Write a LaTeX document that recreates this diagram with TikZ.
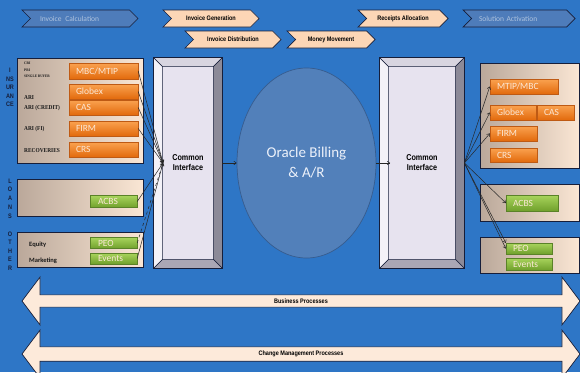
\documentclass[tikz,border=0pt]{standalone}
\usepackage{fontspec}
\setmainfont{Carlito}
\newfontfamily\narrowfont[FakeStretch=0.85]{Liberation Sans}
\newfontfamily\serifnarrow[FakeStretch=0.9]{Liberation Serif}
\usetikzlibrary{arrows.meta,calc}
\usetikzlibrary{shapes.geometric,shapes.symbols,shapes.arrows}

\definecolor{bgblue}{RGB}{46,118,198}
\definecolor{chevfill}{RGB}{78,124,186}
\definecolor{chevtext}{RGB}{175,195,222}
\definecolor{peach}{RGB}{252,214,182}
\definecolor{arrowpeach}{RGB}{253,234,218}
\definecolor{navy}{RGB}{22,30,58}
\definecolor{ovalfill}{RGB}{82,128,186}
\definecolor{ovaledge}{RGB}{55,92,142}
\definecolor{ovaltext}{RGB}{236,241,250}
\definecolor{paneldark}{RGB}{186,168,154}
\definecolor{panellight}{RGB}{250,230,212}
\definecolor{orangetop}{RGB}{250,162,80}
\definecolor{orangebot}{RGB}{226,106,12}
\definecolor{orangeedge}{RGB}{190,90,20}
\definecolor{greentop}{RGB}{168,212,92}
\definecolor{greenbot}{RGB}{112,160,44}
\definecolor{greenedge}{RGB}{90,130,40}
\definecolor{btntext}{RGB}{252,232,214}
\definecolor{ciface}{RGB}{231,227,239}
\definecolor{cileft}{RGB}{244,242,248}
\definecolor{citop}{RGB}{216,213,224}
\definecolor{ciright}{RGB}{140,138,152}
\definecolor{cibottom}{RGB}{170,167,181}

\begin{document}
\begin{tikzpicture}[x=1pt,y=-1pt]
\tikzstyle{chev}=[signal, signal from=west, signal to=east, draw=navy,
    line width=0.7pt, minimum height=17pt, inner sep=0pt]
\tikzstyle{chevpeach}=[chev, fill=peach,
    font=\narrowfont\bfseries\fontsize{6.5}{7}\selectfont]
\tikzstyle{chevblue}=[chev, fill=chevfill, text=chevtext, text width=80pt,
    align=left, font=\fontsize{7.5}{8}\selectfont]
\tikzstyle{panel}=[rectangle, draw=navy, line width=0.8pt,
    left color=paneldark, right color=panellight]
\tikzstyle{btn}=[rectangle, inner xsep=7pt, inner ysep=0pt, align=left,
    text=btntext, font=\fontsize{9.5}{10}\selectfont]
\tikzstyle{obtn}=[btn, top color=orangetop, bottom color=orangebot, draw=orangeedge]
\tikzstyle{gbtn}=[btn, top color=greentop, bottom color=greenbot, draw=greenedge]
\tikzstyle{ci}=[rectangle, draw=navy, line width=0.8pt, fill=ciface,
    minimum height=210pt, align=center,
    font=\narrowfont\bfseries\fontsize{8.5}{10}\selectfont]
\tikzstyle{side}=[inner sep=0pt, text=navy,
    font=\narrowfont\bfseries\fontsize{6.5}{7}\selectfont]
\tikzstyle{lbl}=[anchor=west, inner sep=0pt, text=black!90,
    font=\serifnarrow\bfseries\fontsize{6}{6}\selectfont]
\tikzstyle{conn}=[-{To[length=3pt,width=4pt]}, black!85, line width=0.5pt]
\tikzstyle{band}=[double arrow, draw=navy, line width=0.7pt, fill=arrowpeach,
    minimum width=48pt, minimum height=558pt, inner sep=0pt,
    double arrow head extend=8pt, double arrow tip angle=106,
    font=\narrowfont\bfseries\fontsize{6.5}{7}\selectfont]

% background
\fill[bgblue] (0,0) rectangle (580,372);
\useasboundingbox (0,0) rectangle (580,372);

% process steps
\node[chevblue, minimum width=116pt] (calc) at (80,18.5) {Invoice\, Calculation};
\node[chevpeach, minimum width=96pt] (gen) at (211,18.5) {Invoice Generation};
\node[chevpeach, minimum width=96pt] (dist) at (233,39.5) {Invoice Distribution};
\node[chevpeach, minimum width=88pt] (money) at (331,39.5) {Money Movement};
\node[chevpeach, minimum width=90pt] (receipts) at (403,18.5) {Receipts Allocation};
\node[chevblue, minimum width=112pt] (activation) at (519,18.5) {Solution Activation};

% side titles
\foreach \t/\y in {I/70,NS/79,UR/87,AN/96,CE/104}
  \node[side] (ins-\t) at (10,\y) {\t};
\foreach \t/\y in {L/181,O/189,A/198,N/207,S/216}
  \node[side] (loan-\t) at (10,\y) {\t};
\foreach \t/\y in {O/234,T/242,H/251,E/259,R/268}
  \node[side] (oth-\t) at (10,\y) {\t};

% left panels
\node[panel, minimum width=126pt, minimum height=105pt] (insl) at (80,110.5) {};
\node[panel, minimum width=126pt, minimum height=37pt] (loanl) at (80,197.5) {};
\node[panel, minimum width=126pt, minimum height=35pt] (othl) at (80,249.5) {};

\node[lbl, anchor=north west, align=left,
    font=\serifnarrow\bfseries\fontsize{3.8}{6.5}\selectfont] (cri) at (24,62) {CRI\\PRI\\SINGLE BUYER};
\node[lbl] (ari) at (24,98) {ARI};
\node[lbl] (aricr) at (24,108) {ARI (CREDIT)};
\node[lbl] (arifi) at (24,129) {ARI (FI)};
\node[lbl] (recov) at (24,151) {RECOVERIES};
\node[lbl, font=\bfseries\fontsize{6.5}{7}\selectfont] (equity) at (29,245) {Equity};
\node[lbl, font=\bfseries\fontsize{6.5}{7}\selectfont] (mkt) at (29,261) {Marketing};

\node[obtn, text width=55pt, minimum height=16pt] (mbcl) at (103.5,71) {MBC/MTIP};
\node[obtn, text width=55pt, minimum height=15pt] (globexl) at (103.5,91.5) {Globex};
\node[obtn, text width=55pt, minimum height=15pt] (casl) at (103.5,107.5) {CAS};
\node[obtn, text width=55pt, minimum height=15pt] (firml) at (103.5,128.5) {FIRM};
\node[obtn, text width=55pt, minimum height=15pt] (crsl) at (103.5,149.5) {CRS};
\node[gbtn, text width=31pt, inner xsep=8pt, minimum height=12pt] (acbsl) at (113.5,201.5) {ACBS};
\node[gbtn, text width=31pt, inner xsep=8pt, minimum height=11pt] (peol) at (113.5,243) {PEO};
\node[gbtn, text width=31pt, inner xsep=8pt, minimum height=11pt] (eventsl) at (113.5,258.5) {Events};

% right panels
\node[panel, minimum width=99pt, minimum height=105pt] (insr) at (529.5,115.5) {};
\node[panel, minimum width=99pt, minimum height=37pt] (loanr) at (529.5,202.5) {};
\node[panel, minimum width=99pt, minimum height=36pt] (othr) at (529.5,255) {};

\node[obtn, text width=54pt, minimum height=15pt] (mtipr) at (524,86.5) {MTIP/MBC};
\node[obtn, text width=32pt, minimum height=15pt] (globexr) at (513,112.5) {Globex};
\node[obtn, text width=23pt, minimum height=15pt] (casr) at (555.5,112.5) {CAS};
\node[obtn, text width=33pt, minimum height=15pt] (firmr) at (513.5,133.5) {FIRM};
\node[obtn, text width=33pt, minimum height=14pt] (crsr) at (513.5,155) {CRS};
\node[gbtn, text width=38pt, minimum height=16pt] (acbsr) at (532,203) {ACBS};
\node[gbtn, text width=32pt, minimum height=11pt] (peor) at (529,248.5) {PEO};
\node[gbtn, text width=32pt, minimum height=12pt] (eventsr) at (529,264) {Events};

% common interfaces
\node[ci, minimum width=68pt] (cil) at (188,163) {};
\node[ci, minimum width=84pt] (cir) at (422,163) {};
\foreach \c in {cil,cir} {
  \filldraw[cileft, draw=navy, line width=0.4pt] (\c.north west) -- (\c.south west)
    -- ($(\c.south west)+(9,-9)$) -- ($(\c.north west)+(9,9)$) -- cycle;
  \filldraw[citop, draw=navy, line width=0.4pt] (\c.north west) -- (\c.north east)
    -- ($(\c.north east)+(-9,9)$) -- ($(\c.north west)+(9,9)$) -- cycle;
  \filldraw[ciright, draw=navy, line width=0.4pt] (\c.north east) -- (\c.south east)
    -- ($(\c.south east)+(-9,-9)$) -- ($(\c.north east)+(-9,9)$) -- cycle;
  \filldraw[cibottom, draw=navy, line width=0.4pt] (\c.south west) -- (\c.south east)
    -- ($(\c.south east)+(-9,-9)$) -- ($(\c.south west)+(9,-9)$) -- cycle;
  \draw[navy, line width=0.8pt] (\c.north west) rectangle (\c.south east);
}
\node[align=center, font=\narrowfont\bfseries\fontsize{8.5}{10}\selectfont] (cilt) at (cil) {Common\\Interface};
\node[align=center, font=\narrowfont\bfseries\fontsize{8.5}{10}\selectfont] (cirt) at (cir) {Common\\Interface};
\coordinate (cilin) at (163,163);
\coordinate (cirin) at (390,163);

% billing
\node[ellipse, draw=ovaledge, line width=0.7pt, fill=ovalfill, minimum width=139pt,
    minimum height=190pt, inner sep=0pt, align=center, text=ovaltext,
    font=\fontsize{15}{20}\selectfont] (oracle) at (306.5,163) {Oracle Billing\\\& A/R};

% connectors
\foreach \b in {mbcl,globexl,casl,firml,acbsl,eventsl}
  \draw[conn] (\b.east) -- (cilin);
\draw[conn, dashed] (peol.east) -- (cilin);
\draw[conn] (cil.east) -- (oracle.west);
\draw[conn] (oracle.east) -- (cirin);
\foreach \b in {mtipr,globexr,firmr,acbsr,peor}
  \draw[conn] (cir.east) -- (\b.west);
\draw[conn] (cir.east) -- (peor.north west);

% process bands
\node[band] (business) at (301,301) {Business Processes};
\node[band] (change) at (301,354) {Change Management Processes};
\end{tikzpicture}
\end{document}
